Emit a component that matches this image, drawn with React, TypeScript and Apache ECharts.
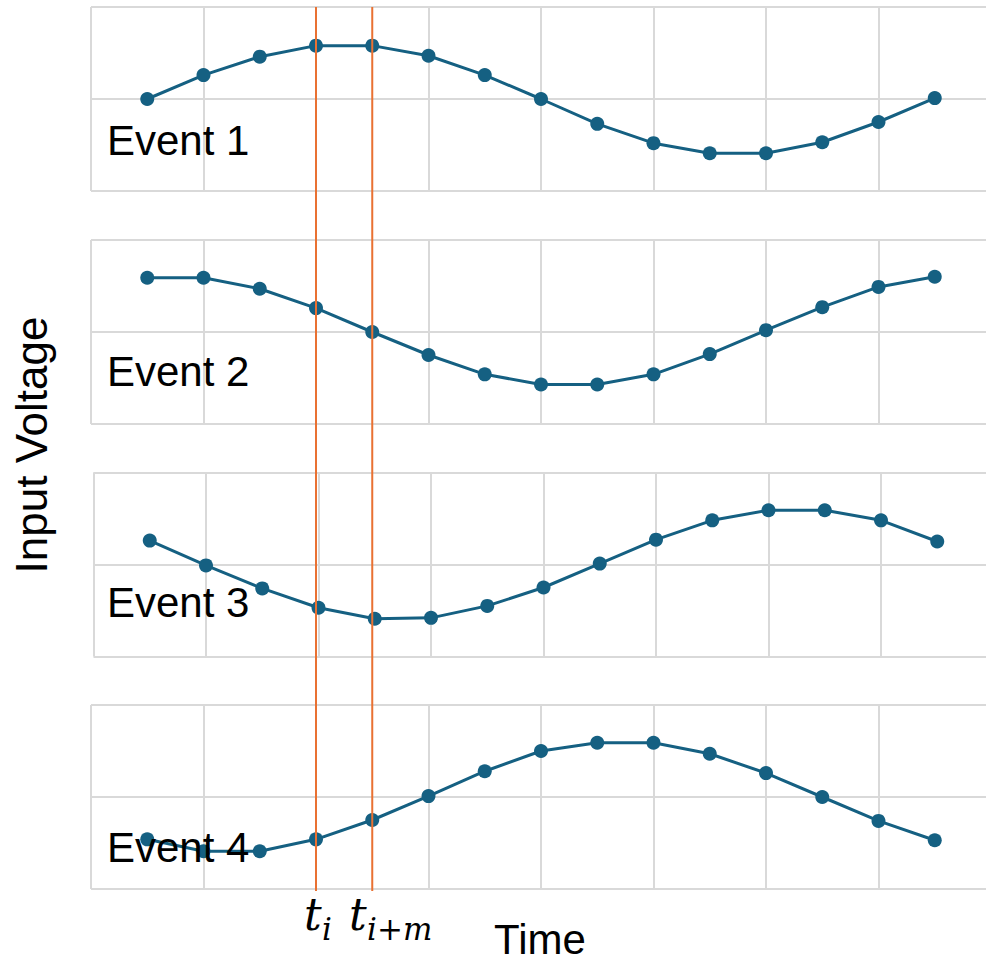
import React, { useEffect, useRef } from "react";
import * as echarts from "echarts";

const timeSteps = [1, 2, 3, 4, 5, 6, 7, 8, 9, 10, 11, 12, 13, 14, 15];
const event1 = [0, 0.26, 0.46, 0.58, 0.58, 0.47, 0.26, 0, -0.27, -0.48, -0.59, -0.59, -0.47, -0.25, 0.01];
const event2 = [0.59, 0.59, 0.47, 0.26, 0, -0.25, -0.46, -0.57, -0.57, -0.46, -0.24, 0.02, 0.27, 0.49, 0.6];
const event3 = [0.26, -0.01, -0.26, -0.47, -0.59, -0.58, -0.45, -0.25, 0.01, 0.27, 0.48, 0.59, 0.59, 0.48, 0.25];
const event4 = [-0.46, -0.59, -0.59, -0.46, -0.25, 0.01, 0.28, 0.5, 0.59, 0.59, 0.47, 0.26, 0, -0.26, -0.47];
const eventNames = ["Event 1", "Event 2", "Event 3", "Event 4"];
const markerTimes = [4, 5];

const BLUE = "#156082";
const ORANGE = "#E97132";
const GRID = "#d9d9d9";
const SANS = "'Liberation Sans', Arial, sans-serif";
const SERIF = "'DejaVu Serif', 'Liberation Serif', serif";

export default function App() {
  const ref = useRef<HTMLDivElement>(null);
  useEffect(() => {
    if (!ref.current) return;
    const chart = echarts.init(ref.current, undefined, { renderer: "svg" });
    const events = [event1, event2, event3, event4];
    const tops = [7, 240, 472.5, 705];
    const lefts = [91, 91, 93.5, 91];
    const labelY = [140, 371, 602, 847];

    const grids: any[] = events.map((_, i) => ({
      left: lefts[i],
      width: 900,
      top: tops[i],
      height: 184,
    }));
    grids.push({ left: 91, width: 900, top: 7, height: 884 });

    const xAxes: any[] = grids.map((_, i) => ({
      type: "value",
      gridIndex: i,
      min: 0,
      max: 16,
      interval: 2,
      axisLine: { show: false },
      axisTick: { show: false },
      axisLabel: { show: false },
      splitLine: { show: i < 4, lineStyle: { color: GRID, width: 2 } },
    }));
    const yAxes: any[] = grids.map((_, i) => ({
      type: "value",
      gridIndex: i,
      min: i < 4 ? -1 : 0,
      max: 1,
      interval: 1,
      axisLine: { show: false },
      axisTick: { show: false },
      axisLabel: { show: false },
      splitLine: { show: i < 4, lineStyle: { color: GRID, width: 2 } },
    }));

    const series: any[] = events.map((vals, i) => ({
      type: "line",
      xAxisIndex: i,
      yAxisIndex: i,
      data: timeSteps.map((t, k) => [t, vals[k]]),
      symbol: "circle",
      symbolSize: 14,
      itemStyle: { color: BLUE },
      lineStyle: { color: BLUE, width: 3 },
      z: 2,
    }));
    markerTimes.forEach((t) => {
      series.push({
        type: "line",
        xAxisIndex: 4,
        yAxisIndex: 4,
        data: [
          [t, 0],
          [t, 1],
        ],
        symbol: "none",
        lineStyle: { color: ORANGE, width: 2 },
        z: 5,
      });
    });

    const graphics: any[] = eventNames.map((name, i) => ({
      type: "text",
      x: 107,
      y: labelY[i],
      z: 10,
      style: {
        text: name,
        font: `42px ${SANS}`,
        fill: "#000",
        verticalAlign: "middle",
        align: "left",
      },
    }));
    graphics.push(
      {
        type: "text",
        x: 31,
        y: 445,
        rotation: Math.PI / 2,
        z: 10,
        style: {
          text: "Input Voltage",
          font: `44px ${SANS}`,
          fill: "#000",
          align: "center",
          verticalAlign: "middle",
        },
      },
      {
        type: "text",
        x: 540,
        y: 939,
        z: 10,
        style: {
          text: "Time",
          font: `42px ${SANS}`,
          fill: "#000",
          align: "center",
          verticalAlign: "middle",
        },
      },
      {
        type: "text",
        x: 304,
        y: 914,
        z: 10,
        style: { text: "t", font: `italic 44px ${SERIF}`, fill: "#000", align: "left", verticalAlign: "middle" },
      },
      {
        type: "text",
        x: 322,
        y: 929,
        z: 10,
        style: { text: "i", font: `italic 31px ${SERIF}`, fill: "#000", align: "left", verticalAlign: "middle" },
      },
      {
        type: "text",
        x: 349,
        y: 914,
        z: 10,
        style: { text: "t", font: `italic 44px ${SERIF}`, fill: "#000", align: "left", verticalAlign: "middle" },
      },
      {
        type: "text",
        x: 367,
        y: 929,
        z: 10,
        style: { text: "i+m", font: `italic 31px ${SERIF}`, fill: "#000", align: "left", verticalAlign: "middle" },
      }
    );

    chart.setOption({
      animation: false,
      backgroundColor: "#ffffff",
      grid: grids,
      xAxis: xAxes,
      yAxis: yAxes,
      series,
      graphic: graphics,
    });
    return () => chart.dispose();
  }, []);
  return (
    <div style={{ position: "fixed", left: 0, top: 0, width: 986, height: 962, overflow: "hidden", background: "#fff" }}>
      <div ref={ref} style={{ width: 1000, height: 962 }} />
    </div>
  );
}
